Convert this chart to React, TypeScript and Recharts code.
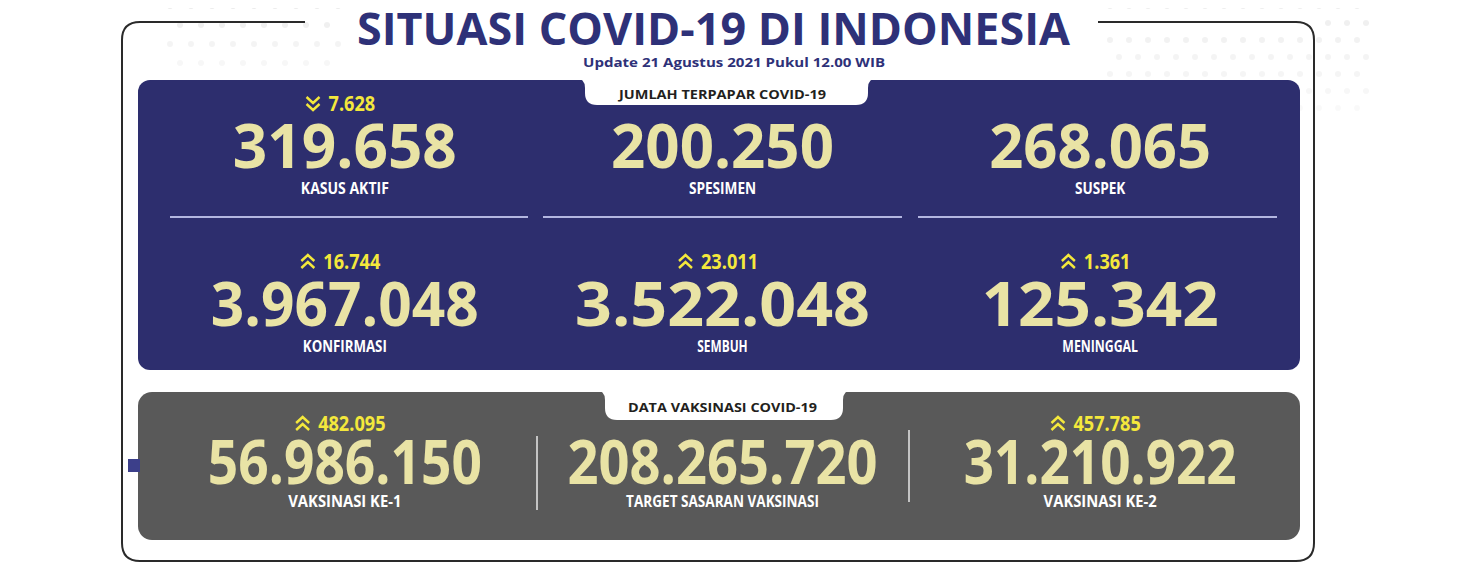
import { ScatterChart, Scatter, XAxis, YAxis } from "recharts";

const caseLabels = ["KASUS AKTIF", "SPESIMEN", "SUSPEK", "KONFIRMASI", "SEMBUH", "MENINGGAL"];
const caseValues = [319658, 200250, 268065, 3967048, 3522048, 125342];
const caseDeltas = [-7628, null, null, 16744, 23011, 1361];

const vaxLabels = ["VAKSINASI KE-1", "TARGET SASARAN VAKSINASI", "VAKSINASI KE-2"];
const vaxValues = [56986150, 208265720, 31210922];
const vaxDeltas = [482095, null, 457785];

const title = "SITUASI COVID-19 DI INDONESIA";
const subtitle = "Update 21 Agustus 2021 Pukul 12.00 WIB";
const caseTab = "JUMLAH TERPAPAR COVID-19";
const vaxTab = "DATA VAKSINASI COVID-19";

// rendered width of each big number (layout only)
const valueWidths = [224, 223, 222, 268, 295, 237, 274, 310, 273];

const W = 1452;
const H = 564;
const o = (v: number) => v - 8; // page px -> svg px

const NAVY = "#2d2e6e";
const TITLE = "#2e3178";
const CREAM = "#e9e3a5";
const YELLOW = "#f4e83c";
const GREY = "#595959";

const fmt = (n: number) =>
  Math.abs(n).toString().replace(/\B(?=(\d{3})+(?!\d))/g, ".");

const data = [
  ...caseValues.map((v, i) => ({
    col: i % 3,
    row: Math.floor(i / 3),
    value: v,
    delta: caseDeltas[i],
    label: caseLabels[i],
    w: valueWidths[i],
  })),
  ...vaxValues.map((v, i) => ({
    col: i,
    row: 2,
    value: v,
    delta: vaxDeltas[i],
    label: vaxLabels[i],
    w: valueWidths[6 + i],
  })),
];

const Chevron = ({ x, y, down }: { x: number; y: number; down: boolean }) => {
  const d = down
    ? `M${x},${y - 7} l6.5,6 l6.5,-6 M${x},${y} l6.5,6 l6.5,-6`
    : `M${x},${y - 1} l6.5,-6 l6.5,6 M${x},${y + 6} l6.5,-6 l6.5,6`;
  return <path d={d} stroke={YELLOW} strokeWidth={2.4} fill="none" />;
};

const StatShape = (props: any) => {
  const { cx, cy, payload } = props;
  const { value, delta, label, w, row } = payload;
  const dy = row === 2 ? -32 : -36;
  const ly = row === 2 ? 44 : 47;
  let deltaEl = null;
  if (delta !== null && delta !== undefined) {
    const txt = fmt(delta);
    const periods = (txt.match(/\./g) || []).length;
    const tw = (txt.length - periods) * 10.4 + periods * 5;
    const gw = 13 + 9 + tw;
    const gx = cx - gw / 2 - 4;
    deltaEl = (
      <g>
        <Chevron x={gx} y={cy + dy - 7} down={delta < 0} />
        <text
          x={gx + 22}
          y={cy + dy}
          fill={YELLOW}
          fontFamily="'Open Sans', sans-serif"
          fontWeight={700}
          fontSize={22}
          textLength={tw}
          lengthAdjust="spacingAndGlyphs"
        >
          {txt}
        </text>
      </g>
    );
  }
  const letters = label.replace(/ /g, "").length;
  const spaces = label.length - letters;
  const lw = letters * 8.4 + spaces * 4;
  return (
    <g>
      {deltaEl}
      <text
        x={cx - w / 2}
        y={cy + 21}
        fill={CREAM}
        fontFamily="'Open Sans', sans-serif"
        fontWeight={700}
        fontSize={60}
        textLength={w}
        lengthAdjust="spacingAndGlyphs"
      >
        {fmt(value)}
      </text>
      <text
        x={cx - lw / 2}
        y={cy + ly}
        fill="#ffffff"
        fontFamily="'Open Sans', sans-serif"
        fontWeight={700}
        fontSize={16.5}
        textLength={lw}
        lengthAdjust="spacingAndGlyphs"
      >
        {label}
      </text>
    </g>
  );
};

const dots: { x: number; y: number; a: number }[] = [];
for (let gx = 0; gx < 20; gx++) {
  for (let gy = 0; gy < 4; gy++) {
    const x = 170 + gx * 21 + (gy % 2) * 10;
    const y = 6 + gy * 19;
    if (x > 345) continue;
    dots.push({ x, y, a: 0.5 - gy * 0.1 });
  }
}
for (let gx = 0; gx < 14; gx++) {
  for (let gy = 0; gy < 7; gy++) {
    const x = 1110 + gx * 19 + (gy % 2) * 9;
    const y = 6 + gy * 17;
    if (x < 1315 && y > 18 && y < 30) continue;
    dots.push({ x, y, a: 0.45 - gy * 0.05 });
  }
}

const Background = () => {
  const L = 122, R = 1314, T = 22, B = 561, r = 18;
  const frame = `M${o(305)},${o(T)} H${o(L + r)} Q${o(L)},${o(T)} ${o(L)},${o(T + r)} V${o(B - r)} Q${o(L)},${o(B)} ${o(L + r)},${o(B)} H${o(R - r)} Q${o(R)},${o(B)} ${o(R)},${o(B - r)} V${o(T + r)} Q${o(R)},${o(T)} ${o(R - r)},${o(T)} H${o(1098)}`;
  const tab = (x1: number, x2: number, y1: number, y2: number, rr: number) =>
    `M${o(x1 - 10)},${o(y1 - 2)} Q${o(x1)},${o(y1 - 2)} ${o(x1)},${o(y1 + 8)} V${o(y2 - rr)} Q${o(x1)},${o(y2)} ${o(x1 + rr)},${o(y2)} H${o(x2 - rr)} Q${o(x2)},${o(y2)} ${o(x2)},${o(y2 - rr)} V${o(y1 + 8)} Q${o(x2)},${o(y1 - 2)} ${o(x2 + 10)},${o(y1 - 2)} Z`;
  return (
    <svg width={W} height={H} style={{ position: "absolute", left: 0, top: 0 }}>
      {dots.map((d, i) => (
        <circle key={i} cx={o(d.x)} cy={o(d.y)} r={3} fill="#d9d9d9" opacity={Math.max(d.a, 0.1)} />
      ))}
      <path d={frame} fill="none" stroke="#2a2a2a" strokeWidth={2} />
      <text
        x={o(357)}
        y={o(45)}
        fill={TITLE}
        fontFamily="'Open Sans', sans-serif"
        fontWeight={700}
        fontSize={45}
        textLength={713}
        lengthAdjust="spacingAndGlyphs"
      >
        {title}
      </text>
      <text
        x={o(583)}
        y={o(67)}
        fill={TITLE}
        fontFamily="'Open Sans', sans-serif"
        fontWeight={700}
        fontSize={13}
        textLength={302}
        lengthAdjust="spacingAndGlyphs"
      >
        {subtitle}
      </text>
      <rect x={o(138)} y={o(80)} width={1162} height={290} rx={12} fill={NAVY} />
      <path d={tab(585, 868, 80, 105, 12)} fill="#ffffff" />
      <text
        x={o(619)}
        y={o(99)}
        fill="#231f20"
        fontFamily="'Open Sans', sans-serif"
        fontWeight={700}
        fontSize={12}
        textLength={207}
        lengthAdjust="spacingAndGlyphs"
      >
        {caseTab}
      </text>
      {[
        [170, 528],
        [543, 902],
        [918, 1277],
      ].map(([a, b], i) => (
        <line key={i} x1={o(a)} x2={o(b)} y1={o(217)} y2={o(217)} stroke="#b3b6e0" strokeWidth={2} />
      ))}
      <rect x={o(138)} y={o(392)} width={1162} height={148} rx={14} fill={GREY} />
      <path d={tab(605, 843, 392, 420, 12)} fill="#ffffff" />
      <text
        x={o(628)}
        y={o(412)}
        fill="#231f20"
        fontFamily="'Open Sans', sans-serif"
        fontWeight={700}
        fontSize={12}
        textLength={189}
        lengthAdjust="spacingAndGlyphs"
      >
        {vaxTab}
      </text>
      <line x1={o(537)} x2={o(537)} y1={o(436)} y2={o(510)} stroke="#c4c4c4" strokeWidth={2} />
      <line x1={o(909)} x2={o(909)} y1={o(430)} y2={o(502)} stroke="#c4c4c4" strokeWidth={2} />
      <rect x={o(128)} y={o(459)} width={12} height={13} fill="#3c3f8a" />
    </svg>
  );
};

export default function App() {
  return (
    <div style={{ position: "relative", width: W, height: H }}>
      <Background />
      <div style={{ position: "absolute", left: 0, top: 0 }}>
        <ScatterChart width={W} height={H} margin={{ top: 60, right: 171, bottom: 30, left: 148 }}>
          <XAxis type="number" dataKey="col" domain={[-0.5, 2.5]} hide />
          <YAxis type="number" dataKey="row" domain={[-0.5, 2.5]} reversed hide />
          <Scatter data={data} shape={<StatShape />} isAnimationActive={false} />
        </ScatterChart>
      </div>
    </div>
  );
}
